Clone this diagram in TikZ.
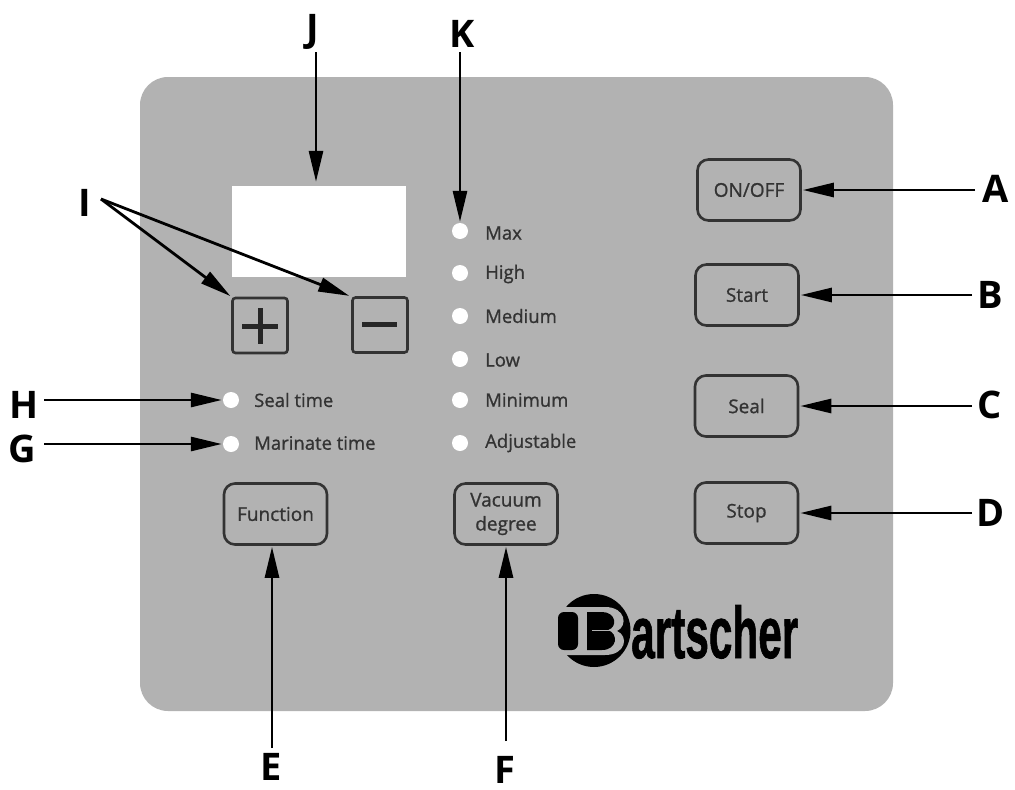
\documentclass[tikz,border=0pt]{standalone}
\usepackage{fontspec}
\setmainfont{Open Sans}
\newfontfamily\logofont[FakeBold=1.2]{Liberation Sans Bold}
\newfontfamily\panelfont[FakeBold=1.0]{Open Sans}
\usetikzlibrary{arrows.meta,calc}
\definecolor{panelgray}{HTML}{B2B2B2}
\definecolor{inkgray}{HTML}{333333}
\tikzset{
  x=1pt,y=-1pt,
  panelbtn/.style={draw=inkgray,line width=2.6pt,rounded corners=11pt,minimum width=103pt,minimum height=61pt,inner sep=0pt,align=center,font=\panelfont\fontsize{19}{21}\selectfont,text=inkgray},
  sqbtn/.style={draw=inkgray,line width=2.6pt,rounded corners=3pt,minimum width=55pt,minimum height=55pt,inner sep=0pt},
  led/.style={circle,fill=white,minimum size=16pt,inner sep=0pt},
  ledtext/.style={anchor=west,inner sep=0pt,font=\panelfont\fontsize{18.5}{20}\selectfont,text=inkgray},
  letter/.style={inner sep=0pt,font=\fontsize{38}{40}\selectfont\bfseries,text=black},
  ptr/.style={draw=black,line width=2.8pt,-{Triangle[length=31pt,width=14pt]},shorten >=1pt},
  signbar/.style={draw=black!85,line width=5pt}
}
\begin{document}
\begin{tikzpicture}
\useasboundingbox (0,0) rectangle (1015,790);
\fill[white] (0,0) rectangle (1015,790);
\fill[panelgray,rounded corners=28pt] (140,77) rectangle (893,711);
\node[fill=white,minimum width=174pt,minimum height=91pt,inner sep=0pt] (display) at (319,231.5) {};
% buttons
\node[panelbtn] (onoff) at (749,190) {ON/OFF};
\node[panelbtn] (start) at (747,295) {Start};
\node[panelbtn] (seal) at (746.5,406) {Seal};
\node[panelbtn] (stop) at (746.5,513) {\vphantom{g}Stop};
\node[panelbtn] (function) at (275.5,514) {Function};
\node[panelbtn] (vacuum) at (506,514) {Vacuum\\[3pt]degree};
\node[sqbtn] (plus) at (260,325.5) {};
\node[sqbtn] (minus) at (380,325) {};
\draw[signbar] (242,326) -- (278,326) (260,308) -- (260,344);
\draw[signbar] (362,324) -- (397,324);
% LEDs
\node[led] (ledH) at (231,400) {};
\node[led] (ledG) at (231,444) {};
\node[led] (ledK) at (460,231) {};
\node[led] (ledHigh) at (460,273) {};
\node[led] (ledMed) at (460,316) {};
\node[led] (ledLow) at (460,359) {};
\node[led] (ledMin) at (460,400) {};
\node[led] (ledAdj) at (460,443) {};
\node[ledtext] (tSeal) at (254,400) {Seal time};
\node[ledtext] (tMar) at (254,443) {Marinate time};
\node[ledtext] (tMax) at (485,233) {Max};
\node[ledtext] (tHigh) at (485,274) {\vphantom{y}High};
\node[ledtext] (tMedium) at (485,316) {Medium};
\node[ledtext] (tLow) at (485,360) {Low};
\node[ledtext] (tMinimum) at (485,400) {Minimum};
\node[ledtext] (tAdjustable) at (485,443) {Adjustable};
% logo
\fill[black] (594,630.5) circle (36.5);
\fill[panelgray] (550,607) -- (605,607) .. controls (626,607) and (628,626) .. (617,631) .. controls (629,636) and (626,655) .. (605,655) -- (550,655) -- cycle;
\fill[black,rounded corners=6pt] (558,612) rectangle (578,650);
\fill[black] (587,612) -- (602,612) .. controls (616,612) and (618,627) .. (608,630) .. controls (619,634) and (617,650) .. (602,650) -- (587,650) -- cycle;
\draw[panelgray,line width=1.6pt] (592,630.5) -- (610,630.5);
\node[anchor=base west,inner sep=0pt,text=black] (logo) at (631,658) {\logofont\fontsize{73}{73}\selectfont\scalebox{0.58}[1]{artscher}};
% letters
\node[letter] (A) at (996,189) {A};
\node[letter] (B) at (990,295) {B};
\node[letter] (C) at (990,405) {C};
\node[letter] (D) at (991,513) {D};
\node[letter] (E) at (271,767) {E};
\node[letter] (F) at (505,770) {F};
\node[letter] (G) at (22,449) {G};
\node[letter] (H) at (24,405) {H};
\node[letter] (I) at (85,203) {I};
\node[letter] (J) at (313,32) {J};
\node[letter] (K) at (462,34) {K};
% connectors
\coordinate (Ae) at (975,190); \coordinate (Be) at (972,295); \coordinate (Ce) at (972,406); \coordinate (De) at (972,513);
\draw[ptr] (Ae) -- (onoff.east);
\draw[ptr] (Be) -- (start.east);
\draw[ptr] (Ce) -- (seal.east);
\draw[ptr] (De) -- (stop.east);
\coordinate (Es) at (272,748); \coordinate (Fs) at (506,741);
\draw[ptr] (Es) -- (function.south -| Es);
\draw[ptr] (Fs) -- (vacuum.south -| Fs);
\coordinate (Gs) at (44,444); \coordinate (Hs) at (44,400);
\draw[ptr] (Gs) -- (ledG.west);
\draw[ptr] (Hs) -- (ledH.west);
\coordinate (Is) at (101,199);
\draw[ptr] (Is) -- (plus.north west);
\draw[ptr] (Is) -- ([xshift=-1pt]minus.north west);
\coordinate (Js) at (316,52); \coordinate (Ks) at (460,52);
\draw[ptr,shorten >=4pt] (Js) -- (Js |- display.north);
\draw[ptr] (Ks) -- (ledK.north);
\end{tikzpicture}
\end{document}
